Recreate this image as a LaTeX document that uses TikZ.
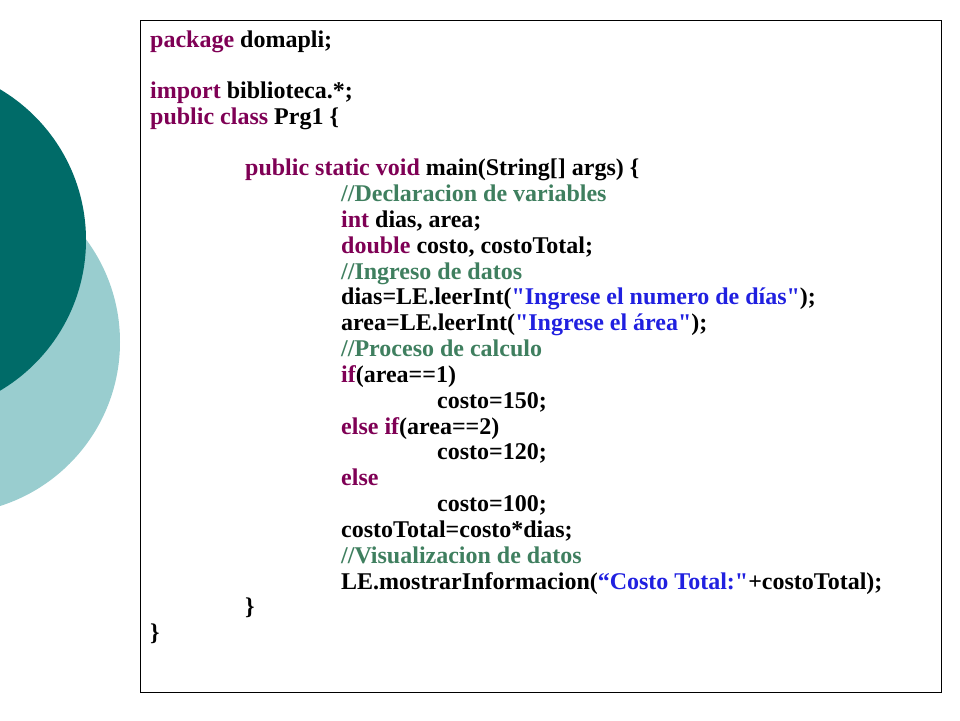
\documentclass[tikz,border=0pt]{standalone}
\usepackage{fontspec}
\setmainfont{Liberation Serif}
\definecolor{kwc}{HTML}{7F0055}
\definecolor{cmc}{HTML}{3F7F5F}
\definecolor{stc}{HTML}{2020E0}
\definecolor{darkteal}{HTML}{006B68}
\definecolor{lightteal}{HTML}{99CDCF}
\newcommand{\jkw}[1]{\textcolor{kwc}{#1}}
\newcommand{\jcm}[1]{\textcolor{cmc}{#1}}
\newcommand{\jst}[1]{\textcolor{stc}{#1}}
\newcommand{\dq}{\textquotedbl}
\begin{document}
\begin{tikzpicture}[x=1pt,y=-1pt,
  code/.style={anchor=base west,inner sep=0pt,font=\fontsize{24}{28}\selectfont\bfseries}]
\useasboundingbox (0,0) rectangle (960,720);
\fill[white] (0,0) rectangle (960,720);
\fill[lightteal] (-52,342) circle (172);
\fill[darkteal] (-89,240) circle (175);
\node[draw=black,line width=0.8pt,minimum width=801,minimum height=672,anchor=north west,inner sep=0pt] (box) at (140,20) {};
\def\L#1#2#3{\node[code] (#1) at (#2) {#3};}
\L{l1}{150,47}{\jkw{package} domapli;}
\L{l2}{150,98}{\jkw{import} biblioteca.*;}
\L{l3}{150,124}{\jkw{public class} Prg1 \{}
\L{l4}{245,175}{\jkw{public static void} main(String[] args) \{}
\L{l5}{341,201}{\jcm{//Declaracion de variables}}
\L{l6}{341,227}{\jkw{int} dias, area;}
\L{l7}{341,253}{\jkw{double} costo, costoTotal;}
\L{l8}{341,279}{\jcm{//Ingreso de datos}}
\L{l9}{341,304}{dias=LE.leerInt(\jst{\dq Ingrese el numero de días\dq});}
\L{l10}{341,330}{area=LE.leerInt(\jst{\dq Ingrese el área\dq});}
\L{l11}{341,356}{\jcm{//Proceso de calculo}}
\L{l12}{341,382}{\jkw{if}(area==1)}
\L{l13}{437,408}{costo=150;}
\L{l14}{341,434}{\jkw{else if}(area==2)}
\L{l15}{437,459}{costo=120;}
\L{l16}{341,485}{\jkw{else}}
\L{l17}{437,511}{costo=100;}
\L{l18}{341,537}{costoTotal=costo*dias;}
\L{l19}{341,563}{\jcm{//Visualizacion de datos}}
\L{l20}{341,589}{LE.mostrarInformacion(\jst{“Costo Total:\dq}+costoTotal);}
\L{l21}{245,614}{\}}
\L{l22}{150,640}{\}}
\end{tikzpicture}
\end{document}
